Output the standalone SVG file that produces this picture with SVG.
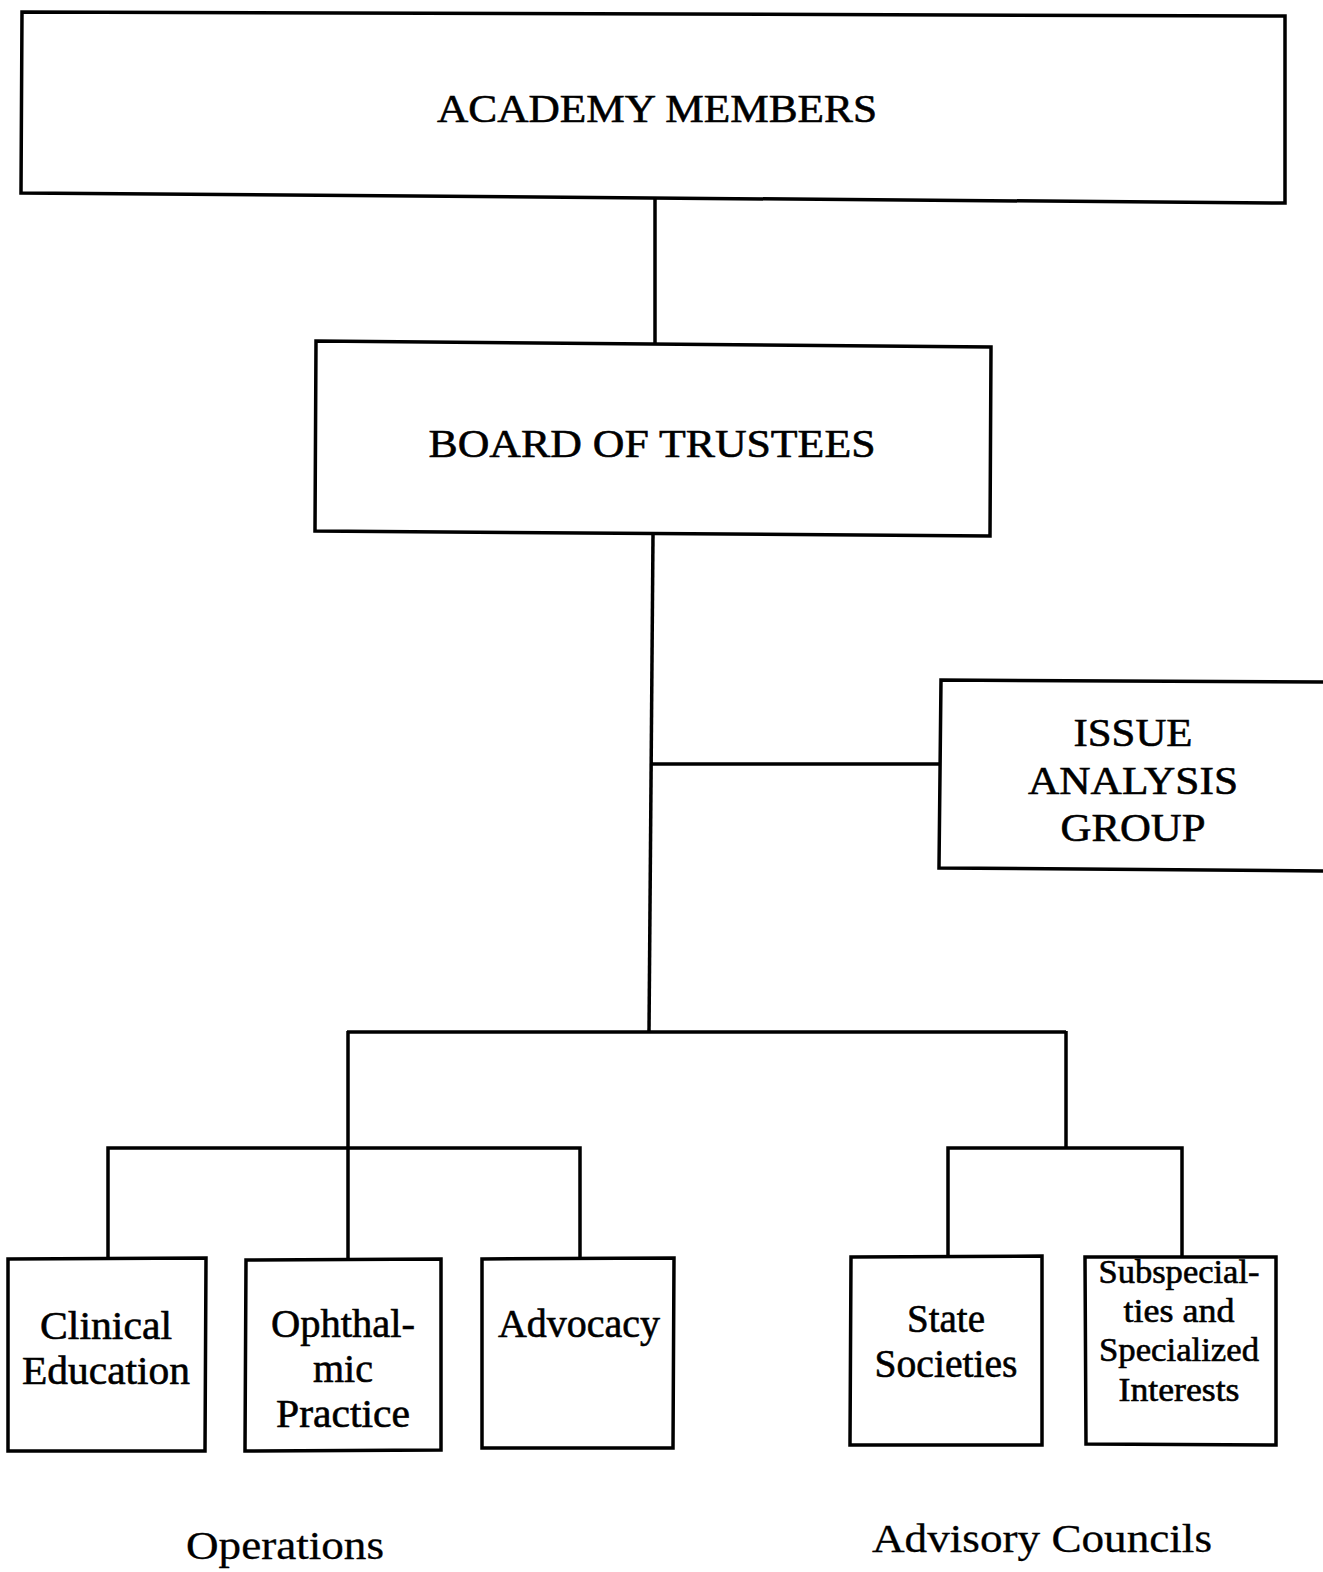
<svg xmlns="http://www.w3.org/2000/svg" width="1323" height="1572" viewBox="0 0 1323 1572">
<style>
.box{fill:#fff;stroke:#000;stroke-width:3.5;stroke-linejoin:miter}
.ln{fill:none;stroke:#000;stroke-width:3.5}
text{font-family:"Liberation Serif","Times New Roman",serif;fill:#000;text-anchor:middle;stroke:#000;stroke-width:0.6}
.big{font-size:41px}
.mid{font-size:41px}
.sm{font-size:34px}
.lab{font-size:39px;stroke-width:0.3}
</style>
<rect width="1323" height="1572" fill="#fff"/>
<g id="connectors">
<path class="ln" d="M655 199 V343"/>
<path class="ln" d="M653 535 L649 1032"/>
<path class="ln" d="M651 764 H940"/>
<path class="ln" d="M347 1032 H1066"/>
<path class="ln" d="M348 1031 V1259"/>
<path class="ln" d="M108 1258 V1148 H580 V1258"/>
<path class="ln" d="M1066 1031 V1148"/>
<path class="ln" d="M948 1256 V1148 H1182 V1257"/>
</g>
<g id="academy-members">
<path class="box" d="M22 12 L1285 16 L1285 203 L21 193 Z"/>
<text class="big" x="657" y="122" textLength="440" lengthAdjust="spacingAndGlyphs">ACADEMY MEMBERS</text>
</g>
<g id="board-of-trustees">
<path class="box" d="M316 341 L991 347 L990 536 L315 531 Z"/>
<text class="big" x="652" y="457" textLength="447" lengthAdjust="spacingAndGlyphs">BOARD OF TRUSTEES</text>
</g>
<g id="issue-analysis-group">
<path class="box" d="M1330 682 L941 680 L939 868 L1330 871"/>
<text class="big" x="1133" y="746" textLength="119" lengthAdjust="spacingAndGlyphs">ISSUE</text>
<text class="big" x="1133" y="794" textLength="210" lengthAdjust="spacingAndGlyphs">ANALYSIS</text>
<text class="big" x="1133" y="841" textLength="145" lengthAdjust="spacingAndGlyphs">GROUP</text>
</g>
<g id="clinical-education">
<path class="box" d="M8 1259 L206 1258 L205 1451 L8 1451 Z"/>
<text class="mid" x="106" y="1339" textLength="132" lengthAdjust="spacingAndGlyphs">Clinical</text>
<text class="mid" x="106" y="1384" textLength="168" lengthAdjust="spacingAndGlyphs">Education</text>
</g>
<g id="ophthalmic-practice">
<path class="box" d="M246 1260 L441 1259 L441 1450 L245 1451 Z"/>
<text class="mid" x="343" y="1337" textLength="144" lengthAdjust="spacingAndGlyphs">Ophthal-</text>
<text class="mid" x="343" y="1382" textLength="60" lengthAdjust="spacingAndGlyphs">mic</text>
<text class="mid" x="343" y="1427" textLength="134" lengthAdjust="spacingAndGlyphs">Practice</text>
</g>
<g id="advocacy">
<path class="box" d="M482 1259 L674 1258 L673 1448 L482 1448 Z"/>
<text class="mid" x="579" y="1337" textLength="162" lengthAdjust="spacingAndGlyphs">Advocacy</text>
</g>
<g id="state-societies">
<path class="box" d="M851 1257 L1042 1256 L1042 1445 L850 1445 Z"/>
<text class="mid" x="946" y="1332" textLength="78" lengthAdjust="spacingAndGlyphs">State</text>
<text class="mid" x="946" y="1377" textLength="143" lengthAdjust="spacingAndGlyphs">Societies</text>
</g>
<g id="subspecialties">
<path class="box" d="M1085 1257 L1276 1257 L1276 1445 L1086 1444 Z"/>
<text class="sm" x="1179" y="1283" textLength="161" lengthAdjust="spacingAndGlyphs">Subspecial-</text>
<text class="sm" x="1179" y="1322" textLength="111" lengthAdjust="spacingAndGlyphs">ties and</text>
<text class="sm" x="1179" y="1361" textLength="160" lengthAdjust="spacingAndGlyphs">Specialized</text>
<text class="sm" x="1179" y="1401" textLength="121" lengthAdjust="spacingAndGlyphs">Interests</text>
</g>
<g id="labels">
<text class="lab" x="285" y="1559" textLength="198" lengthAdjust="spacingAndGlyphs">Operations</text>
<text class="lab" x="1042" y="1552" textLength="340" lengthAdjust="spacingAndGlyphs">Advisory Councils</text>
</g>
</svg>
